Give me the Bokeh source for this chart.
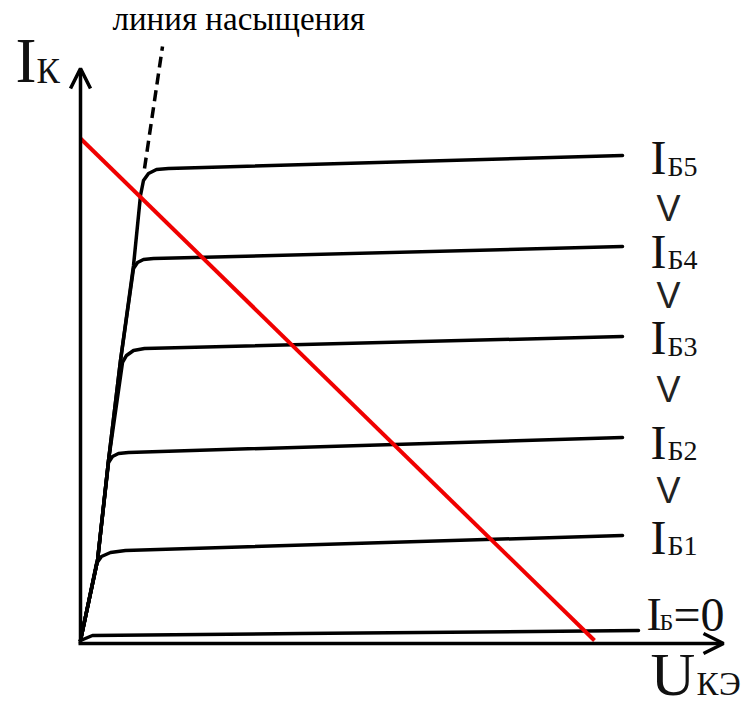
from bokeh.plotting import figure
from bokeh.models import Range1d, Arrow, OpenHead
from bokeh.core.properties import value
from bokeh.embed import file_html
from bokeh.resources import INLINE

# ---- data (U in V, I in mA) ----
sat_u = [0.0, 0.314, 0.517, 0.738, 0.978, 1.107]
sat_i = [0.0, 1.667, 3.75, 5.833, 7.813, 9.271]

ib5_u = sat_u + [1.162, 1.255, 1.402, 1.624, 10.0]
ib5_i = sat_i + [9.583, 9.729, 9.813, 9.833, 10.104]

ib4_u = sat_u[:4] + [0.978, 1.052, 1.162, 1.347, 10.0]
ib4_i = sat_i[:4] + [7.75, 7.875, 7.938, 7.958, 8.208]

ib3_u = sat_u[:3] + [0.775, 0.849, 0.978, 1.181, 10.0]
ib3_i = sat_i[:3] + [5.792, 5.938, 6.042, 6.083, 6.333]

ib2_u = sat_u[:2] + [0.517, 0.590, 0.701, 0.886, 10.0]
ib2_i = sat_i[:2] + [3.708, 3.833, 3.896, 3.917, 4.229]

ib1_u = [0.0, 0.295, 0.387, 0.554, 0.830, 10.0]
ib1_i = [0.0, 1.604, 1.75, 1.833, 1.875, 2.188]

ib0_u = [0.0, 0.221, 4.059, 10.295]
ib0_i = [0.0, 0.104, 0.146, 0.208]

dash_u = [1.181, 1.513]
dash_i = [9.833, 12.375]

load_u = [0.0, 9.483]
load_i = [10.458, 0.0]

curve_labels = ["Б5", "Б4", "Б3", "Б2", "Б1"]
label_i = [10.069, 8.110, 6.319, 4.131, 2.152]
sub_i = [9.885, 7.927, 6.135, 3.948, 1.969]
gt_i = [9.010, 7.177, 5.219, 3.115]

p = figure(width=745, height=709,
           x_range=Range1d(-1.476, 12.269), y_range=Range1d(-1.4375, 13.333),
           output_backend="svg", toolbar_location=None, min_border=0)
p.axis.visible = False
p.grid.visible = False
p.outline_line_color = None
p.background_fill_color = "white"

# axes with arrows
p.add_layout(Arrow(end=OpenHead(size=20, line_width=3.5, line_color="black"),
                   x_start=0, y_start=-0.0625, x_end=0, y_end=11.917,
                   line_width=3.5, line_color="black"))
p.add_layout(Arrow(end=OpenHead(size=20, line_width=3.5, line_color="black"),
                   x_start=-0.037, y_start=-0.0625, x_end=11.863, y_end=-0.0625,
                   line_width=3.5, line_color="black"))

for uu, ii in [(ib5_u, ib5_i), (ib4_u, ib4_i), (ib3_u, ib3_i),
               (ib2_u, ib2_i), (ib1_u, ib1_i), (ib0_u, ib0_i)]:
    p.line(uu, ii, line_width=3.5, line_color="black", line_join="round", line_cap="round")

p.line(dash_u, dash_i, line_width=3.5, line_color="black", line_dash="11 6")
p.line(load_u, load_i, line_width=4, line_color="#f00000")

serif = value("Liberation Serif")

# curve labels
p.text(x=[10.517] * 5, y=label_i, text=["I"] * 5, text_font=serif,
       text_font_size=value("48px"), text_baseline="alphabetic", text_color="#111")
p.text(x=[10.83] * 5, y=sub_i, text=curve_labels, text_font=serif,
       text_font_size=value("28px"), text_baseline="alphabetic", text_color="#111")
p.text(x=[10.849] * 4, y=gt_i, text=["V"] * 4, text_font=value("Liberation Sans"),
       text_font_size=value("36px"), text_align="center", text_baseline="alphabetic",
       text_color="#222")

# I_B = 0
p.text(x=[10.443], y=[0.533], text=["I"], text_font=serif,
       text_font_size=value("46px"), text_baseline="alphabetic", text_color="#111")
p.text(x=[10.683], y=[0.379], text=["Б"], text_font=serif,
       text_font_size=value("24px"), text_baseline="alphabetic", text_color="#111")
p.text(x=[10.941], y=[0.548], text=["=0"], text_font=serif,
       text_font_size=value("48px"), text_baseline="alphabetic", text_color="#111")

# axis titles
p.text(x=[-1.199], y=[12.071], text=["I"], text_font=serif,
       text_font_size=value("63px"), text_baseline="alphabetic", text_color="#111")
p.text(x=[-0.812], y=[11.852], text=["К"], text_font=serif,
       text_font_size=value("35px"), text_baseline="alphabetic", text_color="#111")
p.text(x=[10.517], y=[-0.706], text=["U"], text_font=serif,
       text_font_size=value("62px"), text_baseline="alphabetic", text_color="#111")
p.text(x=[11.365], y=[-0.913], text=["КЭ"], text_font=serif,
       text_font_size=value("33px"), text_baseline="alphabetic", text_color="#111")

# saturation line label
p.text(x=[0.59], y=[12.942], text=["линия насыщения"], text_font=serif,
       text_font_size=value("33px"), text_baseline="alphabetic",
       text_color="#000")

open("out.html", "w").write(file_html(p, INLINE))
